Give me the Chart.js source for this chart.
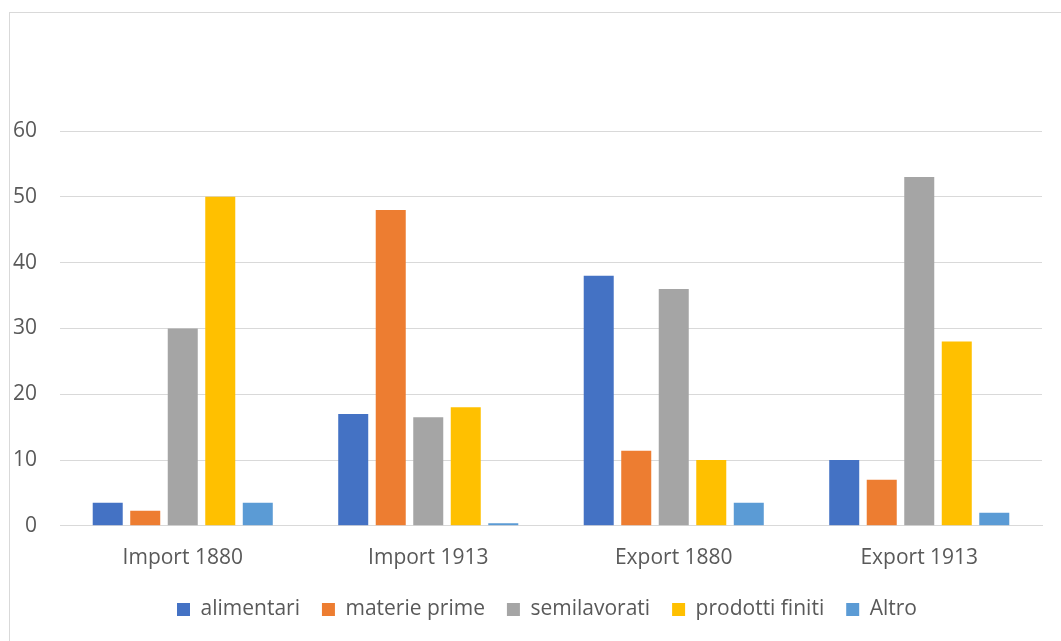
<!DOCTYPE html>
<html>
<head>
<meta charset="utf-8">
<script src="https://cdn.jsdelivr.net/npm/chart.js@4/dist/chart.umd.min.js"></script>
<style>
  html, body { margin: 0; padding: 0; background: #ffffff; }
  #wrap { width: 1061px; height: 641px; position: relative; }
</style>
</head>
<body>
<div id="wrap"><canvas id="c" width="1061" height="641"></canvas></div>
<script>
const categories = ["Import 1880", "Import 1913", "Export 1880", "Export 1913"];
const seriesNames = ["alimentari", "materie prime", "semilavorati", "prodotti finiti", "Altro"];
const alimentari = [3.5, 17, 38, 10];
const materiePrime = [2.3, 48, 11.4, 7];
const semilavorati = [30, 16.5, 36, 53];
const prodottiFiniti = [50, 18, 10, 28];
const altro = [3.5, 0.4, 3.5, 2];
const yTicks = [0, 10, 20, 30, 40, 50, 60];
const colors = ["#4472C4", "#ED7D31", "#A5A5A5", "#FFC000", "#5B9BD5"];

const values = [alimentari, materiePrime, semilavorati, prodottiFiniti, altro];
const FONT = { family: "'Open Sans', sans-serif", size: 21 };

const framePlugin = {
  id: 'frame',
  beforeDraw(chart) {
    const ctx = chart.ctx;
    ctx.save();
    ctx.fillStyle = '#ffffff';
    ctx.fillRect(0, 0, chart.width, chart.height);
    ctx.strokeStyle = '#d9d9d9';
    ctx.lineWidth = 1;
    ctx.strokeRect(9.5, 12.5, chart.width + 10, chart.height + 10);
    ctx.restore();
  }
};

const legendShift = {
  id: 'legendShift',
  afterLayout(chart) {
    if (chart.legend) {
      chart.legend.left += 26;
      chart.legend.right += 26;
    }
  }
};

new Chart(document.getElementById('c'), {
  type: 'bar',
  data: {
    labels: categories,
    datasets: seriesNames.map((n, i) => ({
      label: n,
      data: values[i],
      backgroundColor: colors[i],
      borderWidth: 0,
      categoryPercentage: 0.764,
      barPercentage: 0.8
    }))
  },
  options: {
    responsive: false,
    animation: false,
    devicePixelRatio: 1,
    layout: { padding: { top: 131, right: 19, bottom: 11, left: 0 } },
    plugins: {
      legend: {
        position: 'bottom',
        labels: {
          color: '#595959',
          font: FONT,
          boxWidth: 13,
          boxHeight: 13,
          padding: 22
        }
      },
      tooltip: { enabled: false }
    },
    scales: {
      x: {
        afterFit(scale) { scale.height -= 6; },
        grid: { display: false },
        border: { color: '#d9d9d9', width: 1 },
        ticks: { color: '#595959', font: FONT, padding: 12 }
      },
      y: {
        min: 0,
        max: 60,
        afterBuildTicks(scale) { scale.ticks = yTicks.map(v => ({ value: v })); },
        afterFit(scale) { scale.width = 60; },
        grid: { color: '#d9d9d9', lineWidth: 1, drawTicks: false },
        border: { display: false },
        ticks: { color: '#595959', font: FONT, padding: 23 }
      }
    }
  },
  plugins: [framePlugin, legendShift]
});
</script>
</body>
</html>
